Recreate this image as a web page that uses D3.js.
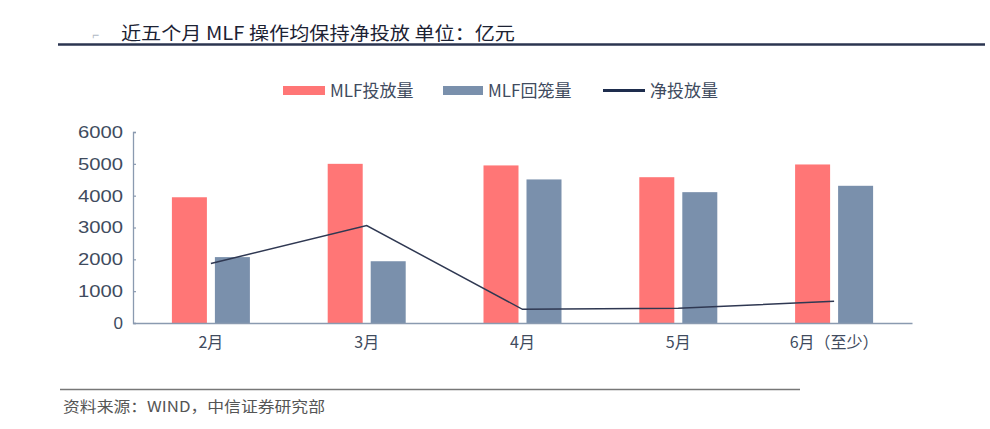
<!DOCTYPE html>
<html><head><meta charset="utf-8">
<script src="https://cdn.jsdelivr.net/npm/d3@7"></script>
<style>body{margin:0;background:#fff;}svg{display:block;}</style>
</head><body>
<script>
const categories = ["2月","3月","4月","5月","6月（至少）"];
const injection = [3950, 5000, 4950, 4580, 4980];
const maturity = [2070, 1940, 4510, 4110, 4310];
const net = [1870, 3060, 430, 460, 680];
const yTicks = [0,1000,2000,3000,4000,5000,6000];
const seriesNames = ["MLF投放量","MLF回笼量","净投放量"];

const W=990,H=429;
const font = "'Noto Sans CJK SC','Noto Sans',sans-serif";
const numFont = "'Liberation Sans','Noto Sans',sans-serif";
const svg = d3.select("body").append("svg").attr("width",W).attr("height",H);

// header
svg.append("text").attr("x",92).attr("y",39).attr("font-family",font).attr("font-size",12)
  .attr("fill","#b0b8c4").text("⌐");
svg.append("text").attr("x",121).attr("y",40).attr("font-family",font).attr("font-size",18)
  .attr("fill","#1c2233").attr("textLength",394).attr("lengthAdjust","spacingAndGlyphs")
  .text("近五个月 MLF 操作均保持净投放  单位：亿元");
svg.append("line").attr("x1",58).attr("x2",985).attr("y1",44.5).attr("y2",44.5)
  .attr("stroke","#2b3550").attr("stroke-width",2.4);

const x = d3.scaleBand().domain(categories).range([133,912]);
const y = d3.scaleLinear().domain([0,6000]).range([323,132]);

const barW = 35, gap = 8;
const g = svg.append("g");
g.selectAll(".inj").data(injection).join("rect")
  .attr("x",(d,i)=>x(categories[i])+x.bandwidth()/2-gap/2-barW)
  .attr("y",d=>y(d)).attr("width",barW).attr("height",d=>y(0)-y(d)).attr("fill","#ff7676");
g.selectAll(".mat").data(maturity).join("rect")
  .attr("x",(d,i)=>x(categories[i])+x.bandwidth()/2+gap/2)
  .attr("y",d=>y(d)).attr("width",barW).attr("height",d=>y(0)-y(d)).attr("fill","#7a90ac");

// axes
const yAxis = d3.axisLeft(y).tickValues(yTicks).tickFormat(d3.format("d")).tickSize(-3).tickPadding(10);
const ya = svg.append("g").attr("transform","translate(133,0)").call(yAxis);
ya.select(".domain").attr("stroke","#8a9ab0").attr("stroke-width",1.3);
ya.selectAll(".tick line").attr("stroke","#8a9ab0").attr("stroke-width",1.2);
ya.selectAll("text").attr("font-family",numFont).attr("font-size",17).attr("fill","#404b5e")
  .attr("textLength",45).attr("lengthAdjust","spacingAndGlyphs")
  .each(function(d){ if(d===0) d3.select(this).attr("textLength",null); });

const xAxis = d3.axisBottom(x).tickSize(0).tickPadding(14);
const xa = svg.append("g").attr("transform","translate(0,323)").call(xAxis);
xa.select(".domain").attr("stroke","#8a9ab0").attr("stroke-width",1.6);
xa.selectAll("text").attr("font-family",font).attr("font-size",16).attr("fill","#404b5e");

// line
const line = d3.line().x((d,i)=>x(categories[i])+x.bandwidth()/2).y(d=>y(d));
svg.append("path").datum(net).attr("d",line).attr("fill","none")
  .attr("stroke","#2f3852").attr("stroke-width",1.5);

// legend
const lg = svg.append("g").attr("font-family",font).attr("font-size",17).attr("fill","#404b5e");
const legendX = [283,443,603];
lg.append("rect").attr("x",legendX[0]).attr("y",86).attr("width",42).attr("height",9).attr("fill","#ff7676");
lg.append("rect").attr("x",legendX[1]).attr("y",86).attr("width",40).attr("height",9).attr("fill","#7a90ac");
lg.append("line").attr("x1",legendX[2]).attr("x2",legendX[2]+42).attr("y1",90.5).attr("y2",90.5)
  .attr("stroke","#1e2d4d").attr("stroke-width",3);
seriesNames.forEach((n,i)=>{
  lg.append("text").attr("x",legendX[i]+(i===1?45:47)).attr("y",97).text(n);
});

// footer
svg.append("line").attr("x1",60).attr("x2",800).attr("y1",389.5).attr("y2",389.5)
  .attr("stroke","#777").attr("stroke-width",1.5);
svg.append("text").attr("x",63).attr("y",412).attr("font-family",font).attr("font-size",15)
  .attr("fill","#555").attr("textLength",262).attr("lengthAdjust","spacingAndGlyphs")
  .text("资料来源：WIND，中信证券研究部");
</script>
</body></html>
